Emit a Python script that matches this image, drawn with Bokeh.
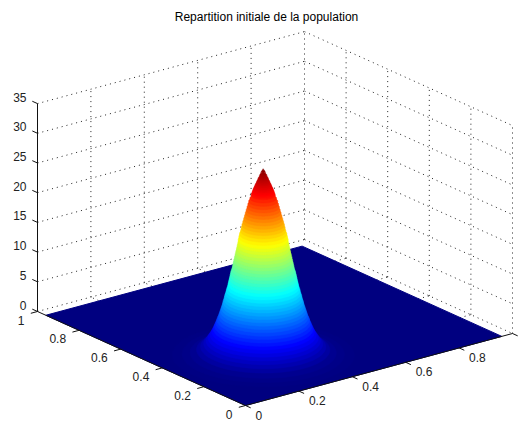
import math
from bokeh.plotting import figure
from bokeh.embed import file_html
from bokeh.resources import INLINE
from bokeh.core.properties import value

title_text = "Repartition initiale de la population"
x_ticks = [0, 0.2, 0.4, 0.6, 0.8]
x_labels = ["0", "0.2", "0.4", "0.6", "0.8"]
y_ticks = [0, 0.2, 0.4, 0.6, 0.8, 1]
y_labels = ["0", "0.2", "0.4", "0.6", "0.8", "1"]
z_ticks = [0, 5, 10, 15, 20, 25, 30, 35]
z_labels = ["0", "5", "10", "15", "20", "25", "30", "35"]
surface_end = 0.96
peak_x = 0.30
peak_y = 0.30
peak_z = 31.5
# iso-height rings of the mound, read from its silhouette: height and radius
ring_z = [0.1, 0.25, 0.5, 1, 1.5, 2, 2.5, 3, 3.5, 4, 4.5, 5, 5.5, 6, 6.5, 7, 7.5, 8, 8.5, 9, 9.5, 10,
          10.5, 11, 11.5, 12, 12.5, 13, 13.5, 14, 14.5, 15, 15.5, 16, 16.5, 17, 17.5, 18, 18.5, 19,
          19.5, 20, 20.5, 21, 21.5, 22, 22.5, 23, 23.5, 24, 24.5, 25, 25.5, 26, 26.5, 27, 27.25, 27.5, 27.75, 28,
          28.25, 28.5, 28.75, 29, 29.25, 29.5, 29.75, 30, 30.25, 30.5, 30.75, 31, 31.2, 31.4]
ring_r = [0.270, 0.240, 0.216, 0.197, 0.185, 0.176, 0.169, 0.163, 0.157, 0.152, 0.148, 0.144, 0.140, 0.137, 0.133, 0.130, 0.127, 0.124, 0.121, 0.119, 0.116, 0.114,
          0.111, 0.109, 0.106, 0.104, 0.102, 0.100, 0.098, 0.096, 0.093, 0.091, 0.089, 0.087, 0.085, 0.083, 0.081, 0.079, 0.077, 0.075,
          0.074, 0.072, 0.070, 0.067, 0.065, 0.063, 0.0605, 0.058, 0.0555, 0.053, 0.0505, 0.048, 0.0455, 0.043, 0.0395, 0.036, 0.0345, 0.033, 0.0315, 0.030,
          0.028, 0.026, 0.024, 0.022, 0.020, 0.018, 0.016, 0.014, 0.012, 0.010, 0.008, 0.006, 0.004, 0.002]

# orthographic view (page pixels): origin and the images of the unit axes
O = (245.0, 405.0)
EX = (267.0, -72.0)
EY = (-208.0, -94.0)
EZ = -5.94


def proj(x, y, z=0.0):
    return (O[0] + EX[0] * x + EY[0] * y, O[1] + EX[1] * x + EY[1] * y + EZ * z)


def jet(t):
    def c(v):
        return int(round(255 * max(0.0, min(1.0, v))))
    return "#%02x%02x%02x" % (c(1.5 - abs(4 * t - 3)), c(1.5 - abs(4 * t - 2)), c(1.5 - abs(4 * t - 1)))


p = figure(width=524, height=426, x_range=(0, 524), y_range=(426, 0),
           toolbar_location=None, output_backend="svg", min_border=0,
           outline_line_color=None)
p.axis.visible = False
p.grid.visible = False
p.background_fill_color = "white"

# dotted grid: back walls and floor
grid_x = [0.2, 0.4, 0.6, 0.8, 1]
grid_y = [0, 0.2, 0.4, 0.6, 0.8]
zmax = z_ticks[-1]
segs = []
for z in z_ticks:
    segs.append((proj(0, 1, z), proj(1, 1, z)))
    segs.append((proj(1, 1, z), proj(1, 0, z)))
for x in grid_x:
    segs.append((proj(x, 1, 0), proj(x, 1, zmax)))
for y in grid_y:
    segs.append((proj(1, y, 0), proj(1, y, zmax)))
for x in x_ticks[1:]:
    segs.append((proj(x, 0, 0), proj(x, 1, 0)))
for y in y_ticks[1:-1]:
    segs.append((proj(0, y, 0), proj(1, y, 0)))
p.multi_line([[a[0], b[0]] for a, b in segs], [[a[1], b[1]] for a, b in segs],
             line_color="#222222", line_width=1, line_dash="1 4")

# floor of the surface
corners = [proj(0, 0), proj(surface_end, 0), proj(surface_end, surface_end), proj(0, surface_end)]
p.patch([c[0] for c in corners], [c[1] for c in corners], fill_color="#000080", line_color="#000080", line_width=1)

# mound: rings painted from the lowest to the highest
xs, ys, cols = [], [], []
for z, r in zip(ring_z, ring_r):
    pts = [proj(peak_x + r * math.cos(2 * math.pi * k / 72), peak_y + r * math.sin(2 * math.pi * k / 72), z)
           for k in range(72)]
    xs.append([q[0] for q in pts])
    ys.append([q[1] for q in pts])
    cols.append(jet(z / peak_z))
p.patches(xs, ys, fill_color=cols, line_color=cols, line_width=0.5)

# axis lines and ticks
tick = 0.025
ax = [(proj(0, 0), proj(1, 0)), (proj(0, 0), proj(0, 1)), (proj(0, 1, 0), proj(0, 1, zmax))]
for x in x_ticks + [1]:
    ax.append((proj(x, 0), proj(x, -tick)))
for y in y_ticks:
    ax.append((proj(0, y), proj(-tick, y)))
for z in z_ticks:
    ax.append((proj(0, 1, z), proj(0, 1 + tick, z)))
p.multi_line([[a[0], b[0]] for a, b in ax], [[a[1], b[1]] for a, b in ax], line_color="#111111", line_width=1)

# tick labels
font = value("Liberation Sans")
size = value("12px")
pts = [proj(x, 0) for x in x_ticks]
p.text([q[0] + 10 for q in pts], [q[1] + 9.5 for q in pts], text=x_labels, text_font=font, text_font_size=size,
       text_align="left", text_baseline="middle", text_color="#222222")
pts = [proj(0, y) for y in y_ticks]
p.text([q[0] - 13 for q in pts], [q[1] + 8.5 for q in pts], text=y_labels, text_font=font, text_font_size=size,
       text_align="right", text_baseline="middle", text_color="#222222")
pts = [proj(0, 1, z) for z in z_ticks]
p.text([q[0] - 11 for q in pts], [q[1] - 6.5 for q in pts], text=z_labels, text_font=font, text_font_size=size,
       text_align="right", text_baseline="middle", text_color="#222222")

# title
p.text([266], [16], text=[title_text], text_font=font, text_font_size=size,
       text_align="center", text_baseline="middle", text_color="#000000")

open("out.html", "w").write(file_html(p, INLINE))
